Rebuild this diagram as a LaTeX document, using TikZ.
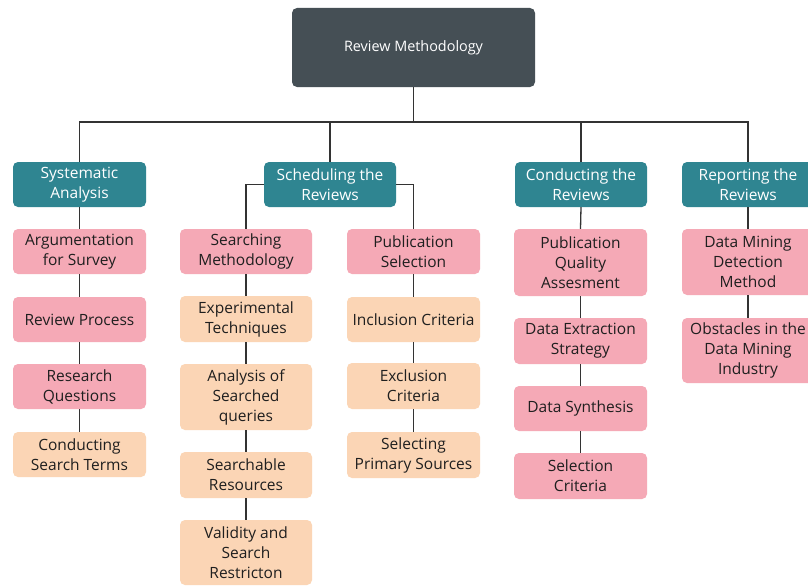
\documentclass[tikz,border=0pt]{standalone}
\usepackage{fontspec}
\newfontfamily\osans{Open Sans}
\definecolor{rootc}{HTML}{454F55}
\definecolor{tealc}{HTML}{2F8591}
\definecolor{pinkc}{HTML}{F5A9B6}
\definecolor{peachc}{HTML}{FBD5B5}
\definecolor{txtc}{HTML}{1F1F1F}
\definecolor{linec}{HTML}{333333}
\begin{document}
\begin{tikzpicture}[x=1pt,y=-1pt,
  box/.style={rounded corners=5pt, inner sep=0pt, align=center, font=\osans\fontsize{15.5}{20}\selectfont},
  rootbox/.style={box, fill=rootc, text=white, minimum width=243, minimum height=79, font=\osans\fontsize{14.4}{18}\selectfont},
  headbox/.style={box, fill=tealc, text=white, minimum width=132, minimum height=45},
  pinkbox/.style={box, fill=pinkc, text=txtc, minimum width=132},
  peachbox/.style={box, fill=peachc, text=txtc, minimum width=132},
  conn/.style={draw=linec, line width=1.3pt}]
\fill[white] (0,0) rectangle (808,586);
\useasboundingbox (0,0) rectangle (808,586);

% root and bus
\node[rootbox] (root) at (413.5,47.5) {Review Methodology};
\coordinate (bus) at (413.5,122);

% level 1
\node[headbox, minimum width=133] (sa) at (79.5,184.5) {Systematic\\Analysis};
\node[headbox] (sr) at (330,184.5) {Scheduling the\\Reviews};
\node[headbox] (cr) at (581,184.5) {Conducting the\\Reviews};
\node[headbox] (rr) at (748,184.5) {Reporting the\\Reviews};

% column 1
\node[pinkbox, minimum width=133, minimum height=45] (a1) at (79.5,251.5) {Argumentation\\for Survey};
\node[pinkbox, minimum width=133, minimum height=45] (a2) at (79.5,319.5) {Review Process};
\node[pinkbox, minimum width=133, minimum height=45] (a3) at (79.5,386.5) {Research\\Questions};
\node[peachbox, minimum width=133, minimum height=45] (a4) at (79.5,454.5) {Conducting\\Search Terms};

% column 2
\node[pinkbox, minimum height=45] (b1) at (246,251.5) {Searching\\Methodology};
\node[peachbox, minimum height=46] (b2) at (246,319) {Experimental\\Techniques};
\node[peachbox, minimum height=66] (b3) at (246,397) {Analysis of\\Searched\\queries};
\node[peachbox, minimum height=46] (b4) at (246,475) {Searchable\\Resources};
\node[peachbox, minimum height=65] (b5) at (246,552.5) {Validity and\\Search\\Restricton};

% column 3
\node[pinkbox, minimum width=133, minimum height=45] (c1) at (413.5,251.5) {Publication\\Selection};
\node[peachbox, minimum width=133, minimum height=45] (c2) at (413.5,319.5) {Inclusion Criteria};
\node[peachbox, minimum width=133, minimum height=46] (c3) at (413.5,386) {Exclusion\\Criteria};
\node[peachbox, minimum width=133, minimum height=46] (c4) at (413.5,455) {Selecting\\Primary Sources};

% column 4
\node[pinkbox, minimum width=133, minimum height=67] (d1) at (580.5,262.5) {Publication\\Quality\\Assesment};
\node[pinkbox, minimum width=133, minimum height=46] (d2) at (580.5,341) {Data Extraction\\Strategy};
\node[pinkbox, minimum width=133, minimum height=45] (d3) at (580.5,408.5) {Data Synthesis};
\node[pinkbox, minimum width=133, minimum height=46] (d4) at (580.5,476) {Selection\\Criteria};

% column 5
\node[pinkbox, minimum height=66] (e1) at (748,262) {Data Mining\\Detection\\Method};
\node[pinkbox, minimum height=65] (e2) at (748,350.5) {Obstacles in the\\Data Mining\\Industry};

% connectors
\draw[conn] (root.south) -- (bus);
\draw[conn] (sa.north) |- (bus);
\draw[conn] (sr.north) |- (bus);
\draw[conn] (cr.north) |- (bus);
\draw[conn] (rr.north) |- (bus);

\draw[conn] (sa.south) -- (a1.north);
\draw[conn] (a1.south) -- (a2.north);
\draw[conn] (a2.south) -- (a3.north);
\draw[conn] (a3.south) -- (a4.north);

\draw[conn] (sr.west) -| (b1.north);
\draw[conn] (sr.east) -| (c1.north);
\draw[conn] (b1.south) -- (b2.north);
\draw[conn] (b2.south) -- (b3.north);
\draw[conn] (b3.south) -- (b4.north);
\draw[conn] (b4.south) -- (b5.north);

\draw[conn] (c1.south) -- (c2.north);
\draw[conn] (c2.south) -- (c3.north);
\draw[conn] (c3.south) -- (c4.north);

\draw[conn] (cr.south) -- (d1.north);
\draw[conn] (d1.south) -- (d2.north);
\draw[conn] (d2.south) -- (d3.north);
\draw[conn] (d3.south) -- (d4.north);

\draw[conn] (rr.south) -- (e1.north);
\draw[conn] (e1.south) -- (e2.north);
\end{tikzpicture}
\end{document}
